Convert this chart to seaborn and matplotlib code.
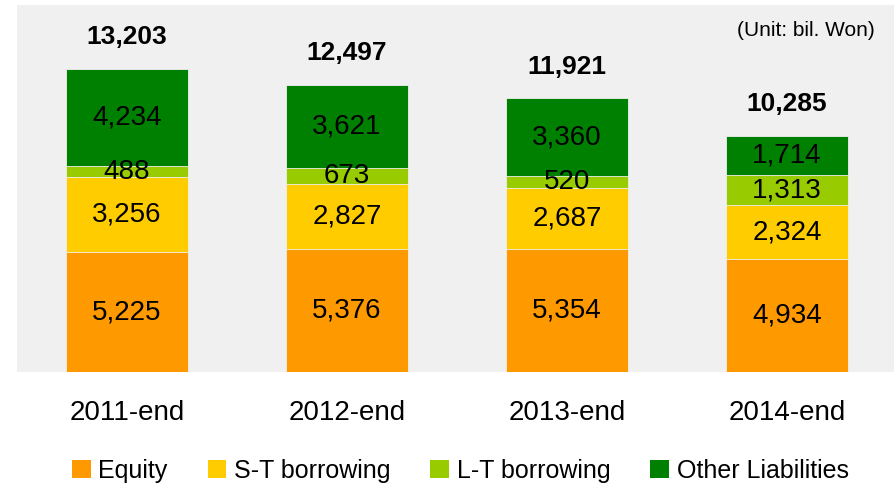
import numpy as np
import pandas as pd
import matplotlib
matplotlib.use("Agg")
import matplotlib.pyplot as plt
import seaborn as sns
from matplotlib.patches import Patch

# -----------------------------
# Data (bil. Won)
# -----------------------------
periods = ["2011-end", "2012-end", "2013-end", "2014-end"]
equity = [5225, 5376, 5354, 4934]
st_borrowing = [3256, 2827, 2687, 2324]
lt_borrowing = [488, 673, 520, 1313]
other_liab = [4234, 3621, 3360, 1714]
totals = [13203, 12497, 11921, 10285]

series_names = ["Equity", "S-T borrowing", "L-T borrowing", "Other Liabilities"]
series_colors = ["#FF9900", "#FFCC00", "#99CC00", "#008000"]

df = pd.DataFrame({
    "period": periods,
    "Equity": equity,
    "S-T borrowing": st_borrowing,
    "L-T borrowing": lt_borrowing,
    "Other Liabilities": other_liab,
})

# -----------------------------
# Style
# -----------------------------
sns.set_style("white")
plt.rcParams["font.family"] = ["Liberation Sans Narrow", "Liberation Sans", "DejaVu Sans"]
plt.rcParams["text.color"] = "black"
plt.rcParams["xtick.color"] = "black"

fig = plt.figure(figsize=(8.94, 4.88), dpi=100)
ax = fig.add_axes([0.019, 0.2377, 0.981, 0.7523])
ax.set_facecolor("#F0F0F0")

# stacked bars: draw cumulative sums, tallest first
cum = df[series_names].cumsum(axis=1)
for name, color in reversed(list(zip(series_names, series_colors))):
    sns.barplot(x=df["period"], y=cum[name], color=color, width=0.555,
                edgecolor="#F0F0F0", linewidth=0.6, saturation=1, ax=ax)

# segment labels
for i in range(len(periods)):
    base = 0
    for name in series_names:
        val = df.loc[i, name]
        ax.text(i, base + val / 2, f"{val:,}", ha="center", va="center",
                fontsize=20, color="black")
        base += val
    ax.annotate(f"{totals[i]:,}", (i, totals[i]), xytext=(0, 23),
                textcoords="offset points", ha="center", va="center",
                fontsize=19, fontweight="bold")

ax.text(0.978, 0.929, "(Unit: bil. Won)", transform=ax.transAxes,
        ha="right", va="center", fontsize=15)

ax.set_xlim(-0.5, 3.486)
ax.set_ylim(0, 16000)
ax.set_xlabel("")
ax.set_ylabel("")
ax.set_yticks([])
ax.tick_params(axis="x", length=0, labelsize=20, pad=20)
for s in ax.spines.values():
    s.set_visible(False)

handles = [Patch(facecolor=c, edgecolor="none", label=n)
           for n, c in zip(series_names, series_colors)]
fig.legend(handles=handles, loc="center", bbox_to_anchor=(0.515, 0.035),
           ncol=4, frameon=False, fontsize=18, handlelength=0.75,
           handleheight=0.75, handletextpad=0.3, columnspacing=1.6)

fig.savefig("out.png", dpi=100)
